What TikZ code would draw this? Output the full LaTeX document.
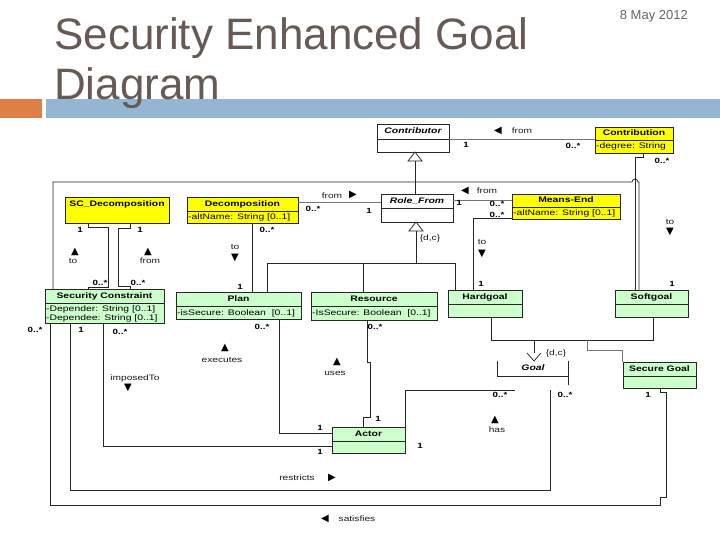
\documentclass[tikz,border=0pt]{standalone}
\usepackage{fontspec}
\setmainfont{Liberation Sans}
\newfontfamily\dfont[FakeStretch=1.3]{Liberation Sans}
\newfontfamily\symfont{DejaVu Sans}
\usetikzlibrary{calc}
\definecolor{ylw}{HTML}{FFFF00}
\definecolor{grn}{HTML}{CCFFCC}
\definecolor{barblue}{HTML}{94B6D2}
\definecolor{orng}{HTML}{DD8047}
\definecolor{titlec}{HTML}{675A55}
\newcommand\ClsBox[9]{%
  \node[cls,fill=#7,minimum width={(#4-#2)*1pt},minimum height={(#5-#3)*1pt}] (#1) at (#2,#3) {};
  \draw[sepl] (#2,#6) -- (#4,#6);
  \node[#8] at ({(#2+#4)/2},{(#3+#6)/2}) {#9};
}
\begin{document}
\begin{tikzpicture}[x=1pt,y=-1pt,
  cls/.style={draw=black!85,line width=0.6pt,inner sep=0pt,outer sep=0pt,anchor=north west},
  sepl/.style={draw=black!85,line width=0.6pt},
  cname/.style={font=\dfont\bfseries\fontsize{8}{9}\selectfont,inner sep=0pt,text height=5.8pt,text depth=1.6pt},
  iname/.style={font=\dfont\bfseries\itshape\fontsize{8}{9}\selectfont,inner sep=0pt,text height=5.8pt,text depth=1.6pt},
  attr/.style={font=\dfont\fontsize{8}{9}\selectfont,inner sep=0pt,anchor=west},
  lbl/.style={font=\dfont\fontsize{7.8}{9}\selectfont,inner sep=0pt,text=black!90},
  mul/.style={font=\dfont\bfseries\fontsize{7.5}{9}\selectfont,inner sep=0pt},
  tri/.style={font=\symfont\fontsize{10}{11}\selectfont,inner sep=0pt},
  conn/.style={draw=black!85,line width=0.75pt},
  lconn/.style={draw=black!55,line width=0.75pt},
  titletext/.style={font=\fontsize{44}{50}\selectfont,text=titlec,inner sep=0pt,anchor=base west},
  datetext/.style={font=\fontsize{13}{15}\selectfont,text=black!60,inner sep=0pt,anchor=base east}
]
\useasboundingbox (0,0) rectangle (720,540);
\fill[white] (0,0) rectangle (720,540);
% header
\fill[orng] (0,99) rectangle (42,118);
\fill[barblue] (46,99) rectangle (720,118);
\node[titletext] (t1) at (54,50) {Security Enhanced Goal};
\node[titletext] (t2) at (54,100) {Diagram};
\node[datetext] (date) at (688,20) {8 May 2012};

% classes
\ClsBox{contributor}{377}{124}{449}{152}{139}{white}{iname}{Contributor}
\ClsBox{contribution}{595}{127}{673}{153}{140}{ylw}{cname}{Contribution}
\node[attr] at (596,146.5) {-degree: String};
\node[cls,fill=ylw,minimum width=104pt,minimum height=26pt] (scdec) at (65,197) {};
\node[cname] at (117,204) {SC\_Decomposition};
\ClsBox{decomp}{187}{197}{298}{223}{211}{ylw}{cname}{Decomposition}
\node[attr] at (188,217) {-altName: String [0..1]};
\ClsBox{rolefrom}{381}{194}{453}{222}{208}{white}{iname}{Role\_From}
\ClsBox{meansend}{512}{194}{620}{219}{207}{ylw}{cname}{Means-End}
\node[attr] at (513,213) {-altName: String [0..1]};
\ClsBox{secc}{45}{289}{164}{323}{303}{grn}{cname}{Security Constraint}
\node[attr] at (46,309) {-Depender: String [0..1]};
\node[attr] at (46,318) {-Dependee: String [0..1]};
\ClsBox{plan}{176}{292}{301}{319}{306}{grn}{cname}{Plan}
\node[attr] at (177,313) {-isSecure: Boolean~~[0..1]};
\ClsBox{resource}{311}{292}{437}{320}{306}{grn}{cname}{Resource}
\node[attr] at (312,313) {-IsSecure: Boolean~~[0..1]};
\ClsBox{hardgoal}{448}{290}{522}{317}{304}{grn}{cname}{Hardgoal}
\ClsBox{softgoal}{615}{290}{688}{317}{304}{grn}{cname}{Softgoal}
\ClsBox{securegoal}{623}{362}{696}{388}{376}{grn}{cname}{Secure Goal}
\ClsBox{actor}{332}{427}{405}{453}{441}{grn}{cname}{Actor}
% Goal (abstract)
\node[inner sep=0pt,outer sep=0pt,minimum width=71pt,minimum height=29pt,anchor=north west] (goal) at (497,361) {};
\draw[sepl] (497,361) -- (497,376) -- (568,376);
\draw[sepl] (568,361) -- (568,385);
\node[iname] at (533,368) {Goal};

% Contributor - Contribution
\draw[lconn] (contributor.east |- 0,139) -- (contribution.west |- 0,139);
\node[tri] at (498,131) {◀};
\node[lbl] at (522,131) {from};
\node[mul] at (466,145) {1};
\node[mul] at (573,146) {0..*};
% Role_From generalizes to Contributor
\draw[conn] (rolefrom.north -| 415,0) -- (415,161);
\draw[conn,fill=white] (contributor.south -| 415,0) -- (408,161) -- (422,161) -- cycle;
% frame: Security Constraint -> Softgoal
\draw[conn] (secc.north -| 53,0) -- (53,182) -- (632,182) arc[start angle=180,end angle=0,radius=3pt] -- (639,182) -- (softgoal.north -| 639,0);
% Contribution -> Softgoal
\draw[conn] (contribution.south -| 643,0) -- (643,157) -- (635,157) -- (softgoal.north -| 635,0);
\node[mul] at (662,161) {0..*};
\node[lbl] at (670,222) {to};
\node[tri] at (670,232) {▼};
\node[mul] at (672,284) {1};
% Decomposition - Role_From
\draw[lconn] (decomp.east |- 0,202) -- (rolefrom.west |- 0,202);
\node[lbl] at (332,196) {from};
\node[tri] at (353,195) {▶};
\node[mul] at (313,209) {0..*};
\node[mul] at (369,211) {1};
% Role_From - Means-End
\draw[lconn] (rolefrom.east |- 0,200) -- (meansend.west |- 0,200);
\node[tri] at (465,191) {◀};
\node[lbl] at (487,191) {from};
\node[mul] at (459,203) {1};
\node[mul] at (497,204) {0..*};
% Means-End -> Hardgoal
\draw[conn] (meansend.west |- 0,218) -- (473,218) -- (hardgoal.north -| 473,0);
\node[mul] at (497,215) {0..*};
\node[lbl] at (482,242) {to};
\node[tri] at (482,254) {▼};
\node[mul] at (481,284) {1};
% Decomposition -> Plan
\draw[conn] (decomp.south -| 252,0) -- (plan.north -| 252,0);
\node[mul] at (267,230) {0..*};
\node[lbl] at (235,247) {to};
\node[tri] at (235,258) {▼};
\node[mul] at (240,287) {1};
% Role_From specialisations
\draw[conn,fill=white] (rolefrom.south -| 416,0) -- (409,231) -- (423,231) -- cycle;
\draw[conn] (416,231) -- (416,263);
\draw[conn] (plan.north -| 267,0) -- (267,263) -- (455,263) -- (hardgoal.north -| 455,0);
\draw[conn] (363,263) -- (resource.north -| 363,0);
\node[lbl] at (430,238) {\{d,c\}};
% SC_Decomposition - Security Constraint
\draw[conn] (scdec.south -| 88,0) -- (88,227) -- (108,227) -- (108,287) -- (88,287) -- (secc.north -| 88,0);
\draw[conn] (scdec.south -| 130,0) -- (130,228) -- (118,228) -- (118,286) -- (130,286) -- (secc.north -| 130,0);
\node[mul] at (80,230) {1};
\node[mul] at (140,230) {1};
\node[tri] at (75,252) {▲};
\node[lbl] at (73,261) {to};
\node[tri] at (148,252) {▲};
\node[lbl] at (150,261) {from};
\node[mul] at (100,283) {0..*};
\node[mul] at (138,283) {0..*};
% satisfies
\draw[conn] (secc.south -| 50,0) -- (50,505) -- (660,505) -- (660,497) -- (666,497) -- (666,392) -- (660,392) -- (securegoal.south -| 660,0);
\node[mul] at (35,330) {0..*};
\node[mul] at (648,395) {1};
\node[tri] at (325,519) {◀};
\node[lbl] at (357,519) {satisfies};
% restricts
\draw[conn] (secc.south -| 70,0) -- (70,490) -- (550,490) -- (goal.south -| 550,0);
\node[mul] at (81,330) {1};
\node[mul] at (565,395) {0..*};
\node[lbl] at (297,478) {restricts};
\node[tri] at (332,478) {▶};
% imposedTo
\draw[conn] (secc.south -| 103,0) -- (103,446) -- (actor.west |- 0,446);
\node[mul] at (120,332) {0..*};
\node[lbl] at (135,378) {imposedTo};
\node[tri] at (128,388) {▼};
\node[mul] at (320,452) {1};
% executes
\draw[conn] (plan.south -| 279,0) -- (279,433) -- (actor.west |- 0,433);
\node[mul] at (262,327) {0..*};
\node[tri] at (225,348) {▲};
\node[lbl] at (222,360) {executes};
\node[mul] at (320,428) {1};
% uses
\draw[conn] (resource.south -| 367,0) -- (367,362) -- (370,362) -- (370,417) -- (363,417) -- (actor.north -| 363,0);
\node[mul] at (375,327) {0..*};
\node[tri] at (337,362) {▲};
\node[lbl] at (335,373) {uses};
\node[mul] at (378,419) {1};
% has
\draw[conn] (actor.north east) -- (405,390) -- (goal.south -| 515,0);
\node[mul] at (420,446) {1};
\node[mul] at (500,395) {0..*};
\node[tri] at (495,420) {▲};
\node[lbl] at (497,430) {has};
% Hardgoal / Softgoal -> Goal
\draw[conn] (hardgoal.south -| 491,0) -- (491,340) -- (653,340) -- (softgoal.south -| 653,0);
\draw[conn] (534,340) -- (534,353);
\draw[conn] (527,353) -- (goal.north -| 534,0) -- (541,353);
\node[lbl] at (556,353) {\{d,c\}};
% Secure Goal -> Goal
\draw[lconn] (587,340) -- (587,350) -- (622,350) -- (securegoal.north -| 622,0);
\end{tikzpicture}
\end{document}
